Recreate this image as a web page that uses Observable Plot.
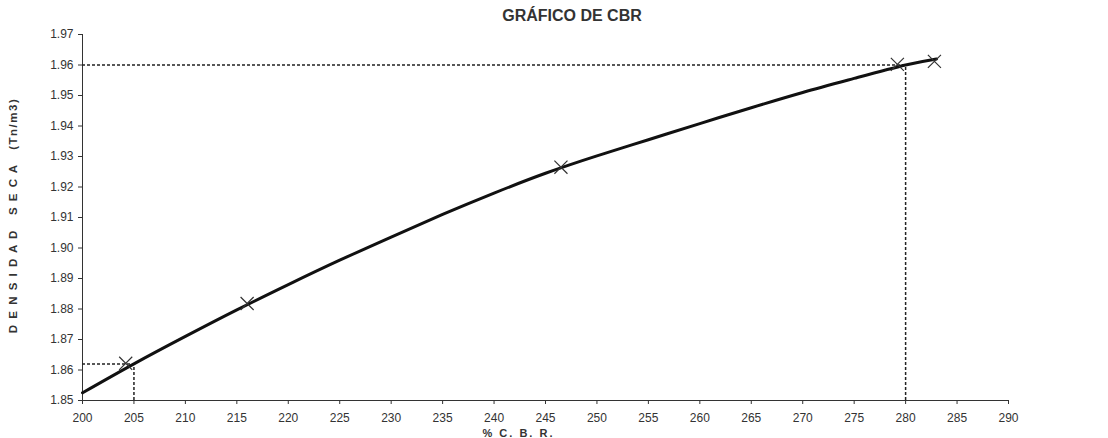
<!DOCTYPE html>
<html><head><meta charset="utf-8">
<script src="https://cdn.jsdelivr.net/npm/d3@7"></script>
<script src="https://cdn.jsdelivr.net/npm/@observablehq/plot@0.6"></script>
<style>
body{margin:0;background:#fff;font-family:"Liberation Sans",Arial,sans-serif;}
#title{height:26px;width:1108px;position:relative;}
#title span{position:absolute;left:572px;top:7px;transform:translateX(-50%);font-weight:bold;font-size:16px;color:#333;white-space:nowrap;}
.yspaced{letter-spacing:1.5px;}
.xspaced{letter-spacing:2px;}
</style></head><body>
<div id="title"><span>GRÁFICO DE CBR</span></div>
<div id="chart"></div>
<script>
// fitted curve
const curveCbr = [200, 205, 210, 215, 220, 225, 230, 235, 240, 245, 250, 255, 260, 265, 270, 275, 280, 283];
const curveDensity = [1.8525, 1.8620, 1.8710, 1.8797, 1.8880, 1.8960, 1.9036, 1.9110, 1.9180, 1.9245, 1.9302, 1.9355, 1.9408, 1.9460, 1.9510, 1.9556, 1.9600, 1.9620];
// measured points (X markers)
const pointCbr = [204.2, 216.0, 246.5, 279.2, 282.8];
const pointDensity = [1.8622, 1.8818, 1.9265, 1.9602, 1.9612];
// dashed reference lines
const refCbr = [205, 280];
const refDensity = [1.862, 1.96];
// axes
const xTicks = [200, 205, 210, 215, 220, 225, 230, 235, 240, 245, 250, 255, 260, 265, 270, 275, 280, 285, 290];
const yTicks = [1.85, 1.86, 1.87, 1.88, 1.89, 1.90, 1.91, 1.92, 1.93, 1.94, 1.95, 1.96, 1.97];
const yLabel = "D E N S I D A D   S E C A   (Tn/m3)";
const xLabel = "% C. B. R.";

const curve = curveCbr.map((x, i) => ({x, y: curveDensity[i]}));
const points = pointCbr.map((x, i) => ({x, y: pointDensity[i]}));
const refs = refCbr.map((x, i) => ({x, y: refDensity[i]}));

const chart = Plot.plot({
  width: 1108,
  height: 412,
  marginLeft: 82,
  marginRight: 100,
  marginTop: 8,
  marginBottom: 38,
  style: {fontFamily: "'Liberation Sans', Arial, sans-serif", fontSize: "12px", color: "#333", background: "#fff"},
  x: {domain: [200, 290], ticks: xTicks, tickFormat: d3.format("d"), label: null, line: true, tickSize: 4, tickPadding: 9},
  y: {domain: [1.85, 1.97], ticks: yTicks, tickFormat: d3.format(".2f"), label: null, line: true, tickSize: 4, tickPadding: 5},
  marks: [
    Plot.ruleY(refs, {y: "y", x1: 200, x2: "x", stroke: "#222", strokeWidth: 1.5, strokeDasharray: "3,2"}),
    Plot.ruleX(refs, {x: "x", y1: 1.85, y2: "y", stroke: "#222", strokeWidth: 1.5, strokeDasharray: "3,2"}),
    Plot.line(curve, {x: "x", y: "y", curve: "natural", stroke: "#111", strokeWidth: 3}),
    Plot.dot(points, {x: "x", y: "y", symbol: "times", r: 6, stroke: "#333", strokeWidth: 1.2}),
    Plot.text([yLabel], {frameAnchor: "left", textAnchor: "middle", rotate: -90, dx: -69, dy: -2, fontWeight: "bold", fontSize: 11.5, fill: "#333", className: "yspaced"}),
    Plot.text([xLabel], {frameAnchor: "bottom", dy: 36, dx: -27, fontWeight: "bold", fontSize: 11, fill: "#333", className: "xspaced"})
  ]
});
document.getElementById("chart").appendChild(chart);
</script>
</body></html>
